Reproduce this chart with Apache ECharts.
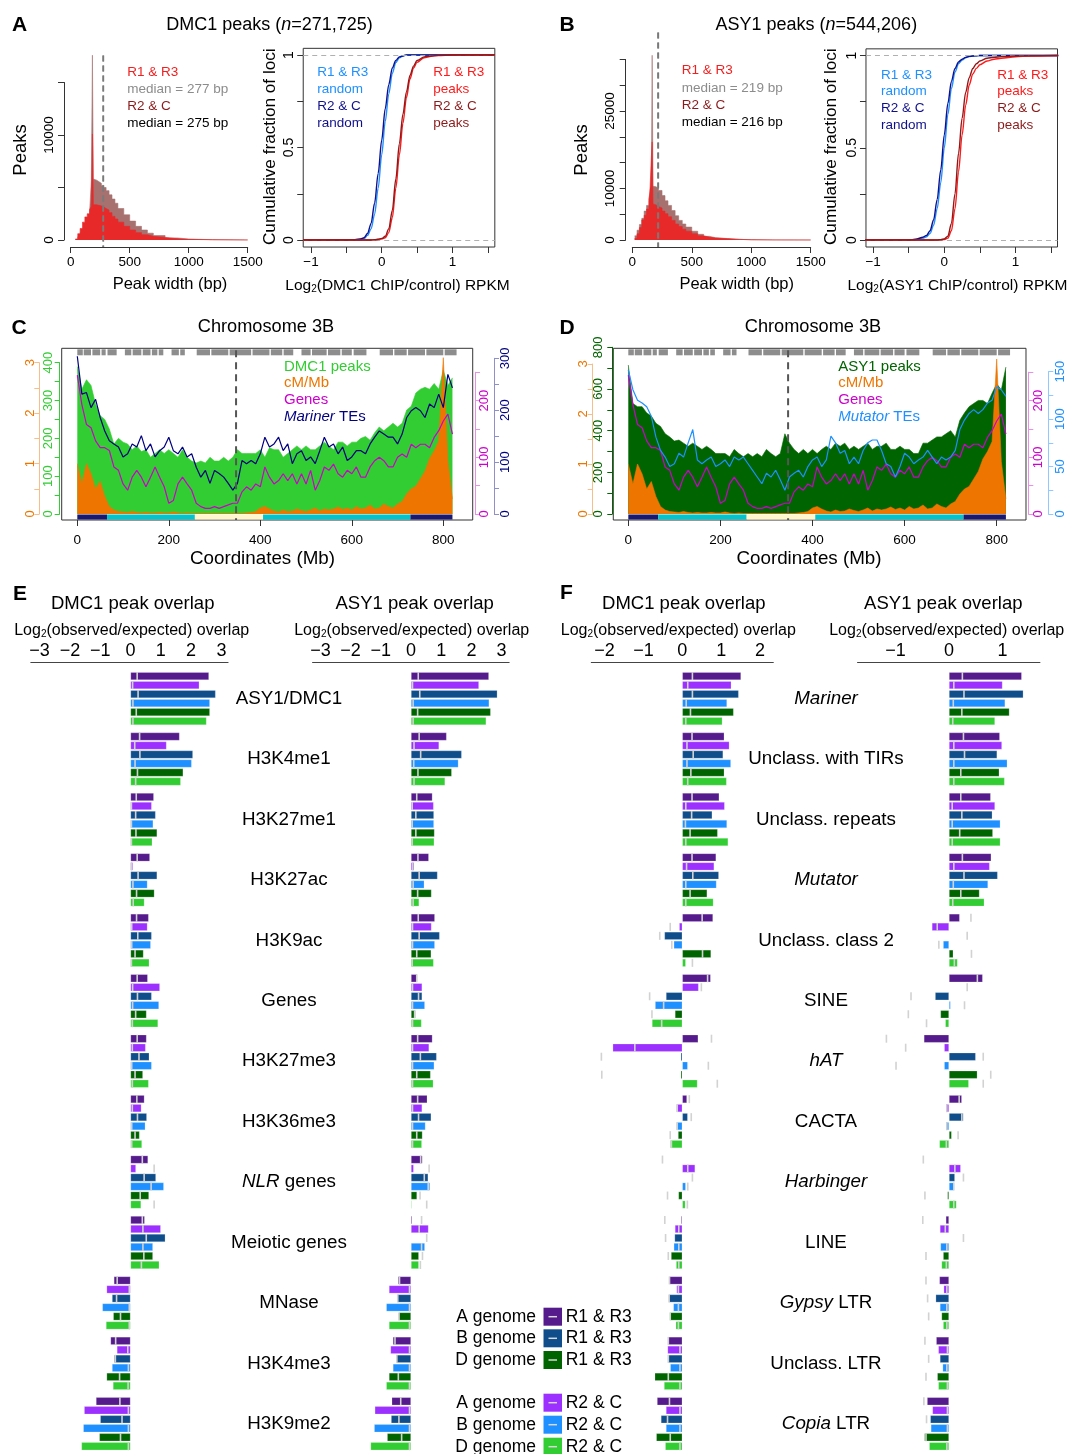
<!DOCTYPE html>
<html>
<head>
<meta charset="utf-8">
<title>Figure</title>
<script src="https://cdn.jsdelivr.net/npm/echarts@6.0.0/dist/echarts.min.js"></script>
<style>
html,body{margin:0;padding:0;background:#fff;}
#chart{width:1088px;height:1454px;}
</style>
</head>
<body>
<div id="chart"></div>
<script>
const FONT = "'Liberation Sans', Arial, Helvetica, sans-serif";

// ================= DATA =================
// Panel A / B : peak width histograms (bin start in bp, peak counts)
const histA_bp   = [40,60,80,100,120,140,160,175,184,192,200,220,240,260,280,300,325,350,375,400,450,500,550,600,650,700,800,900,1000,1200,1500];
const histA_R1R3 = [100,600,1100,1700,2200,2500,2900,3200,10100,3350,3350,3300,3250,3150,3000,2850,2600,2250,2000,1700,1300,950,700,500,350,250,120,60,25,5,0];
const histA_R2C  = [50,300,700,1100,1600,2000,2600,5700,17600,5800,5700,5550,5400,5200,5000,4700,4300,3900,3500,3000,2400,1800,1300,950,650,420,200,90,30,8,0];
const histA_medians = [277, 275];
const histA_yLabels = [0, 10000];

const histB_bp   = [20,40,60,80,100,120,140,150,160,167,174,180,200,220,250,275,300,330,360,390,420,450,500,550,600,650,700,800,900,1000,1200,1500];
const histB_R1R3 = [300,1200,2400,3900,4800,6000,7600,10300,16000,19000,7000,6800,6500,6200,5600,5100,4500,3800,3100,2600,2100,1700,1200,800,550,380,250,120,50,20,5,0];
const histB_R2C  = [800,1900,3000,4200,5600,6700,8000,9000,10200,35800,10400,10300,10000,9600,8600,7600,6700,5700,4700,3800,3100,2500,1700,1100,700,450,280,130,50,20,5,0];
const histB_medians = [219, 216];
const histB_yLabels = [0, 10000, 25000];

// Cumulative fraction curves (log2 ChIP/control RPKM)
const ecdfX = [-1.11,-0.5,-0.4,-0.3,-0.25,-0.2,-0.15,-0.1,-0.05,0,0.05,0.1,0.15,0.2,0.25,0.3,0.35,0.4,0.45,0.5,0.6,0.7,0.8,1.0,1.2,1.6];
const ecdfA_R1R3_random = [0,0,0.001,0.004,0.008,0.025,0.06,0.14,0.28,0.46,0.64,0.79,0.9,0.96,0.985,0.995,1,1,1,1,1,1,1,1,1,1];
const ecdfA_R2C_random  = [0,0,0.001,0.006,0.012,0.035,0.09,0.2,0.36,0.54,0.71,0.84,0.93,0.97,0.99,0.995,1,1,1,1,1,1,1,1,1,1];
const ecdfA_R1R3_peaks  = [0,0,0,0,0,0,0,0.001,0.003,0.006,0.012,0.04,0.12,0.28,0.46,0.63,0.77,0.87,0.93,0.96,0.985,0.993,0.997,0.999,1,1];
const ecdfA_R2C_peaks   = [0,0,0,0,0,0,0,0.001,0.004,0.008,0.02,0.06,0.16,0.33,0.52,0.68,0.8,0.89,0.94,0.97,0.99,0.995,0.998,1,1,1];
const ecdfB_R1R3_random = [0,0,0.003,0.01,0.018,0.035,0.08,0.17,0.31,0.5,0.68,0.82,0.91,0.955,0.975,0.988,0.994,0.997,0.999,1,1,1,1,1,1,1];
const ecdfB_R2C_random  = [0,0,0.004,0.015,0.025,0.05,0.11,0.22,0.38,0.57,0.74,0.86,0.93,0.965,0.98,0.99,0.995,0.997,0.999,1,1,1,1,1,1,1];
const ecdfB_R1R3_peaks  = [0,0,0,0,0,0,0,0,0.001,0.003,0.01,0.05,0.17,0.37,0.57,0.73,0.84,0.9,0.93,0.95,0.97,0.98,0.985,0.993,0.997,1];
const ecdfB_R2C_peaks   = [0,0,0,0,0,0,0,0,0.002,0.006,0.02,0.09,0.25,0.47,0.66,0.8,0.88,0.93,0.955,0.97,0.985,0.99,0.994,0.997,0.999,1];

// Panels C / D : chromosome 3B profiles (10-Mb windows)
const chrWindowMb = [0,10,20,30,40,50,60,70,80,90,100,110,120,130,140,150,160,170,180,190,200,210,220,230,240,250,260,270,280,290,300,310,320,330,340,350,360,370,380,390,400,410,420,430,440,450,460,470,480,490,500,510,520,530,540,550,560,570,580,590,600,610,620,630,640,650,660,670,680,690,700,710,720,730,740,750,760,770,780,790,800,810,820];
const dmc1PeaksPerWin = [390,330,355,340,290,260,250,225,185,200,190,185,170,180,165,170,150,160,170,160,170,160,150,170,150,140,135,140,135,150,140,140,150,140,150,170,160,160,160,160,170,150,175,170,170,150,160,170,180,170,180,170,170,180,190,180,170,190,190,180,190,190,200,205,195,215,230,220,230,240,230,240,275,285,320,330,335,330,345,330,380,340,360];
const asy1PeaksPerWin = [715,530,515,515,485,470,435,420,385,370,350,355,340,325,340,325,310,325,310,290,290,290,275,310,290,275,290,275,290,275,310,290,275,290,385,340,310,290,310,290,310,290,310,325,310,340,325,340,310,325,310,325,340,310,325,325,340,310,310,325,310,310,290,290,340,340,355,370,370,385,400,370,450,485,515,530,545,545,530,580,625,595,705];
const cmPerMb = [1.0,0.6,1.0,0.8,0.5,0.65,0.35,0.15,0.08,0.05,0.04,0.03,0.05,0.03,0.02,0.03,0.02,0.02,0.03,0.02,0.02,0.04,0.02,0.01,0.02,0.01,0.01,0.01,0.01,0.01,0.01,0.01,0.01,0.01,0.01,0.01,0.01,0.02,0.03,0.05,0.12,0.15,0.1,0.06,0.04,0.08,0.05,0.06,0.1,0.07,0.05,0.08,0.12,0.06,0.1,0.08,0.1,0.14,0.09,0.12,0.08,0.15,0.1,0.12,0.18,0.1,0.12,0.2,0.15,0.12,0.2,0.25,0.4,0.5,0.55,0.7,0.85,1.1,1.25,1.45,3.1,1.05,0.3];
const genesPerWin = [245,193,158,152,129,117,117,112,83,77,53,42,65,77,65,48,65,83,65,48,19,24,53,65,53,42,19,13,10,10,13,10,13,16,19,19,39,48,42,53,48,83,65,53,59,71,59,71,53,71,53,77,42,59,83,77,88,71,65,77,71,83,65,65,83,94,100,94,83,83,100,106,100,123,117,123,123,117,135,147,164,176,141];
const marinerPerWin = [304,231,234,205,221,186,160,141,135,129,110,116,135,129,151,122,135,110,122,129,148,122,116,129,110,116,90,71,84,59,84,78,71,59,46,59,103,97,103,97,116,148,129,135,148,122,135,97,116,122,103,110,97,122,148,129,135,116,129,103,110,122,122,116,135,148,160,154,148,148,135,154,186,199,205,199,186,212,205,231,205,269,243];
const mutatorPerWin = [152,131,120,117,113,103,81,67,60,50,53,64,60,75,89,57,53,57,60,50,53,57,50,60,57,60,53,46,39,32,43,39,46,36,25,39,43,46,39,50,57,60,50,57,82,75,64,67,53,60,53,67,75,78,78,67,53,50,39,50,64,60,53,57,60,67,60,53,60,57,60,67,89,99,106,110,106,110,117,120,134,131,124];
const rugIntervals = [[0,12],[14,30],[33,50],[53,62],[66,86],[104,118],[121,140],[143,160],[163,175],[178,188],[206,222],[225,235],[261,290],[293,330],[333,380],[383,420],[423,448],[451,472],[490,510],[513,545],[548,575],[578,600],[604,632],[661,690],[693,720],[723,760],[763,800],[803,829]];
const bandStart  = [0,65,257,406,728];
const bandEnd    = [65,257,406,728,820];
const bandRegion = ['R1','R2a','C','R2b','R3'];
const centromereMb = 347;

// Panels E / F : log2(observed/expected) overlap
const catsE = ['ASY1/DMC1','H3K4me1','H3K27me1','H3K27ac','H3K9ac','Genes','H3K27me3','H3K36me3','NLR genes','Meiotic genes','MNase','H3K4me3','H3K9me2'];
const catsF = ['Mariner','Unclass. with TIRs','Unclass. repeats','Mutator','Unclass. class 2','SINE','hAT','CACTA','Harbinger','LINE','Gypsy LTR','Unclass. LTR','Copia LTR'];
const italicWords = ['NLR','Mariner','Mutator','hAT','Harbinger','Gypsy','Copia'];
const seriesGenome = ['A genome','A genome','B genome','B genome','D genome','D genome'];
const seriesRep    = ['R1 & R3','R2 & C','R1 & R3','R2 & C','R1 & R3','R2 & C'];

const E_dmc1_obs = [
 [2.59,1.62,0.77,0.64,0.60,0.57,0.53,0.46,0.58,0.47,-0.55,-0.66,-1.14],
 [2.27,1.19,0.70,0.08,0.56,0.97,0.50,0.36,0.18,1.00,-0.79,-0.45,-1.53],
 [2.81,2.06,0.83,0.88,0.70,0.70,0.62,0.54,0.84,1.15,-0.61,-0.54,-1.00],
 [2.62,2.02,0.75,0.56,0.67,0.94,0.70,0.49,1.10,0.74,-0.93,-0.61,-1.56],
 [2.62,1.74,0.88,0.79,0.43,0.53,0.41,0.30,0.61,0.74,-0.57,-0.79,-1.03],
 [2.51,1.66,0.72,0.46,0.62,0.91,0.60,0.38,0.35,0.95,-0.81,-0.58,-1.62]];
const E_dmc1_rand = [
 [0.22,0.30,0.19,0.22,0.20,0.22,0.22,0.21,0.39,0.39,-0.44,-0.49,-0.35],
 [0.07,0.14,0.03,0.03,0.04,0.07,0.06,0.06,0.78,0.41,-0.04,-0.09,-0.07],
 [0.25,0.31,0.17,0.25,0.24,0.23,0.28,0.23,0.45,0.52,-0.46,-0.50,-0.28],
 [0.08,0.15,0.03,0.08,0.04,0.07,0.04,0.04,0.68,0.41,-0.04,-0.07,-0.07],
 [0.19,0.23,0.18,0.20,0.15,0.17,0.15,0.15,0.32,0.44,-0.33,-0.36,-0.33],
 [0.08,0.17,0.03,0.09,0.03,0.06,0.06,0.04,0.78,0.36,-0.04,-0.08,-0.07]];
const E_asy1_obs = [
 [2.58,1.18,0.71,0.59,0.79,0.21,0.71,0.54,0.38,0.04,-0.43,-0.60,-0.64],
 [2.25,0.93,0.75,0.11,0.68,0.37,0.60,0.37,0.09,0.58,-0.73,-0.68,-1.20],
 [2.86,1.68,0.76,0.88,0.95,0.37,0.85,0.67,0.57,0.02,-0.45,-0.48,-0.66],
 [2.59,1.57,0.76,0.44,0.79,0.46,0.77,0.48,0.63,0.46,-0.82,-0.60,-1.22],
 [2.64,1.35,0.78,0.68,0.67,0.15,0.65,0.38,0.20,0.26,-0.40,-0.73,-0.79],
 [2.49,1.13,0.77,0.27,0.75,0.35,0.74,0.36,0.03,0.26,-0.73,-0.82,-1.34]];
const E_asy1_rand = [
 [0.24,0.27,0.19,0.23,0.24,0.19,0.22,0.22,0.32,0.35,-0.38,-0.53,-0.34],
 [0.05,0.10,0.04,0.06,0.05,0.05,0.05,0.05,0.60,0.27,-0.05,-0.05,-0.05],
 [0.29,0.32,0.16,0.27,0.27,0.25,0.31,0.25,0.44,0.52,-0.44,-0.47,-0.40],
 [0.07,0.09,0.04,0.07,0.05,0.05,0.05,0.05,0.57,0.35,-0.05,-0.05,-0.05],
 [0.22,0.23,0.16,0.22,0.19,0.12,0.19,0.19,0.30,0.38,-0.40,-0.42,-0.31],
 [0.07,0.10,0.04,0.07,0.04,0.05,0.05,0.05,0.52,0.31,-0.05,-0.05,-0.05]];
const F_dmc1_obs = [
 [1.51,1.08,0.95,0.87,0.79,0.73,0.41,0.12,0.00,-0.03,-0.33,-0.36,-0.65],
 [1.26,1.21,1.09,0.82,-0.08,0.42,-1.79,-0.15,0.33,-0.19,-0.15,-0.38,-0.42],
 [1.45,1.05,0.77,0.94,-0.46,-0.42,-0.04,0.14,0.00,-0.20,-0.34,-0.36,-0.55],
 [1.15,1.25,1.15,0.88,-0.22,-0.70,0.14,-0.15,0.09,-0.22,-0.23,-0.31,-0.42],
 [1.32,1.08,0.91,0.64,0.74,-0.19,-0.04,-0.11,-0.10,-0.29,-0.31,-0.71,-0.67],
 [1.03,1.14,1.18,0.80,0.09,-0.78,0.39,-0.31,0.08,-0.16,-0.17,-0.47,-0.44]];
const F_dmc1_rand = [
 [0.26,0.25,0.25,0.25,0.51,0.65,0.75,0.18,-0.51,-0.45,-0.33,-0.36,-0.33],
 [0.14,0.12,0.09,0.11,-0.31,0.49,-1.22,-0.13,0.14,-0.09,-0.10,-0.06,-0.06],
 [0.26,0.28,0.24,0.27,-0.58,-0.84,-2.08,0.23,0.26,-0.43,-0.34,-0.36,-0.38],
 [0.10,0.12,0.08,0.09,-0.27,-0.48,0.67,-0.13,0.14,-0.09,-0.10,-0.06,-0.06],
 [0.21,0.22,0.20,0.20,0.52,-0.78,-2.07,-0.31,-0.38,-0.36,-0.31,-0.36,-0.31],
 [0.09,0.14,0.09,0.09,0.26,-0.53,0.90,-0.28,0.13,-0.09,-0.10,-0.06,-0.06]];
const F_asy1_obs = [
 [1.36,0.95,0.78,0.79,0.20,0.63,-0.47,0.24,0.00,-0.06,-0.18,-0.24,-0.41],
 [1.00,0.99,0.86,0.76,-0.32,0.00,-0.09,-0.06,0.22,-0.17,-0.10,-0.20,-0.31],
 [1.39,0.90,0.81,0.91,0.01,-0.26,0.50,0.27,0.11,0.01,-0.25,-0.17,-0.35],
 [1.05,1.09,0.96,0.73,-0.11,0.03,-0.09,-0.06,0.09,-0.16,-0.17,-0.12,-0.34],
 [1.13,0.94,0.82,0.57,0.08,-0.16,0.53,0.05,-0.03,-0.11,-0.14,-0.22,-0.46],
 [0.86,1.04,0.96,0.66,0.16,-0.07,0.37,-0.18,0.14,-0.14,-0.11,-0.20,-0.37]];
const F_asy1_rand = [
 [0.25,0.27,0.22,0.25,0.41,0.53,-1.17,0.19,-0.48,-0.49,-0.43,-0.45,-0.47],
 [0.09,0.09,0.06,0.09,-0.22,0.34,-0.81,-0.04,0.11,-0.07,-0.04,-0.03,-0.03],
 [0.28,0.29,0.24,0.28,0.34,-0.71,0.64,0.24,0.27,0.27,-0.40,-0.38,-0.42],
 [0.08,0.09,0.06,0.08,-0.19,0.29,-0.99,-0.04,0.09,-0.04,-0.04,-0.04,-0.03],
 [0.24,0.22,0.20,0.22,0.42,-0.76,0.78,0.17,-0.45,-0.43,-0.38,-0.43,-0.43],
 [0.07,0.09,0.06,0.07,0.10,-0.42,0.64,-0.05,0.09,-0.05,-0.04,-0.03,-0.04]];

// ================= STYLE =================
const HIST_RED = '#E8292A', HIST_BROWN = '#A6716E';
const C_DODGER = '#1E90FF', C_NAVY = '#10108C', C_RED = '#FF1A1A', C_DARKRED = '#8B1A1A';
const BAR_COLORS = ['#551A8B','#9B30FF','#104E8B','#1E90FF','#006400','#32CD32'];
const BAND_COLORS = {R1:'#191970', R2a:'#00C5CD', C:'#FFF6C9', R2b:'#00C5CD', R3:'#191970'};

// ================= BUILDERS =================
const grid = [], xAxis = [], yAxis = [], series = [], graphic = [];
function G(left, top, width, height, extra) { grid.push(Object.assign({left, top, width, height, containLabel:false}, extra || {})); return grid.length - 1; }
const OFF = {axisLine:{show:false,onZero:false}, axisTick:{show:false}, axisLabel:{show:false}, splitLine:{show:false}};
function X(gi, o) { xAxis.push(Object.assign({gridIndex:gi, type:'value'}, OFF, o || {})); return xAxis.length - 1; }
function Y(gi, o) { yAxis.push(Object.assign({gridIndex:gi, type:'value'}, OFF, o || {})); return yAxis.length - 1; }
function axisOn(color, lineColor, tickLen, size, margin, fmt, rot) {
  return {
    axisLine:{show:true, onZero:false, lineStyle:{color:lineColor, width:1}},
    axisTick:{show:true, length:tickLen, lineStyle:{color:lineColor, width:1}},
    axisLabel:{show:true, color, fontSize:size, fontFamily:FONT, margin, formatter:fmt, rotate:rot || 0, showMinLabel:true, showMaxLabel:true},
    splitLine:{show:false}
  };
}
const minusFmt = v => (v < 0 ? '\u2212' + Math.abs(v) : String(v));

function T(x, y, text, o) {
  o = o || {};
  const size = o.size || 18;
  const font = (o.italic ? 'italic ' : '') + (o.bold ? 'bold ' : '') + size + 'px ' + FONT;
  const style = {text, fill:o.color || '#000', font, textAlign:o.align || 'center', textVerticalAlign:'middle', align:o.align || 'center', verticalAlign:'middle'};
  if (o.rich) style.rich = o.rich;
  graphic.push({type:'text', x, y, rotation:o.rot ? Math.PI / 2 : 0, style, z:50, silent:true});
}
function RS(size, color, extra) { return Object.assign({fontSize:size, fontFamily:FONT, fill:color || '#000'}, extra || {}); }
function logText(x, y, rest, size, rot) {
  T(x, y, '{t|Log}{s|2}{t|' + rest + '}', {size, rot, rich:{
    t: RS(size, '#000', {lineHeight:size + 4, verticalAlign:'bottom'}),
    s: RS(Math.round(size * 0.65), '#000', {lineHeight:Math.round(size * 0.7), verticalAlign:'bottom'})}});
}
function italicize(name) {
  for (const w of italicWords) {
    if (name === w) return '{i|' + w + '}';
    if (name.indexOf(w + ' ') === 0) return '{i|' + w + '}{n|' + name.slice(w.length) + '}';
  }
  return '{n|' + name + '}';
}

// ---- histogram panel ----
function stepArea(xi, yi, bp, counts, color, z) {
  return {type:'line', xAxisIndex:xi, yAxisIndex:yi, step:'end', symbol:'none', clip:false, z, silent:true,
    data: bp.map((b, i) => [b, counts[i]]),
    lineStyle:{width:0.6, color}, areaStyle:{color, opacity:1}};
}
function histPanel(p) {
  const g = G(p.left, p.top, p.width, p.height);
  const xi = X(g, Object.assign({min:0, max:1500, interval:500, position:'bottom', offset:7}, axisOn('#000', '#333', 6, 13.5, 8, v => String(v))));
  const yi = Y(g, Object.assign({min:0, max:p.ymax, interval:5000, position:'left', offset:p.yoff},
    axisOn('#000', '#333', 6, 13.5, 8, v => (p.labels.indexOf(v) >= 0 ? String(v) : ''), 90)));
  series.push(stepArea(xi, yi, p.bp, p.r2c, HIST_BROWN, 2));
  series.push(stepArea(xi, yi, p.bp, p.r1r3, HIST_RED, 3));
  series.push({type:'custom', xAxisIndex:xi, yAxisIndex:yi, z:6, silent:true, clip:false,
    data: p.medians.map(m => [m, 0]),
    renderItem: (params, api) => {
      const cs = params.coordSys; const x = api.coord([api.value(0), 0])[0];
      return {type:'line', shape:{x1:x, y1:cs.y - 27, x2:x, y2:cs.y + cs.height + 7},
        style:{stroke:'#7a7a7a', lineWidth:1.6, lineDash:[6, 4]}};
    }});
}
// ---- ECDF panel ----
function ecdfPanel(p) {
  const gd = G(p.zero + p.xmin * p.unit, p.y0 - p.ymax * p.yunit, (p.xmax - p.xmin) * p.unit, (p.ymax - p.ymin) * p.yunit,
    {show:true, borderColor:'#333', borderWidth:1});
  const xd = X(gd, {min:p.xmin, max:p.xmax}), yd = Y(gd, {min:p.ymin, max:p.ymax});
  const gt = G(p.zero - p.unit, p.y0 - p.yunit, 2.5 * p.unit, p.yunit);
  X(gt, Object.assign({min:-1, max:1.5, interval:0.5, position:'bottom', offset:-p.ymin * p.yunit},
    axisOn('#000', '#333', 6, 13.5, 8, v => (Number.isInteger(v) ? minusFmt(v) : '')), {axisLine:{show:false, onZero:false}}));
  Y(gt, Object.assign({min:0, max:1, interval:0.25, position:'left', offset:(-1 - p.xmin) * p.unit},
    axisOn('#000', '#333', 6, 14, 7, v => ((v === 0 || v === 0.5 || v === 1) ? String(v) : ''), 90), {axisLine:{show:false, onZero:false}}));
  p.curves.forEach((c, k) => {
    const s = {type:'line', xAxisIndex:xd, yAxisIndex:yd, symbol:'none', smooth:0.3, smoothMonotone:'x', silent:true, z:3 + k,
      data: ecdfX.map((x, i) => [x, c.data[i]]), lineStyle:{color:c.color, width:1.4}};
    if (k === 0) s.markLine = {silent:true, symbol:['none','none'], label:{show:false}, animation:false,
      lineStyle:{color:'#b0b0b0', type:[5, 4], width:1}, data:[{yAxis:0}, {yAxis:1}]};
    series.push(s);
  });
}
// ---- chromosome panel ----
function chromPanel(p) {
  const left = p.zero + p.xmin * p.unit, width = (p.xmax - p.xmin) * p.unit;
  const gf = G(left, p.boxTop, width, p.boxBottom - p.boxTop, {show:true, borderColor:'#333', borderWidth:1});
  const xf = X(gf, {min:p.xmin, max:p.xmax}), yf = Y(gf, {min:0, max:1});
  p.layers.forEach((L, k) => {
    const g = G(left, p.base - L.max * L.unit, width, L.max * L.unit);
    const xi = X(g, {min:p.xmin, max:p.xmax});
    const yi = Y(g, Object.assign({min:0, max:L.max, interval:L.tick, position:L.pos, offset:L.offset},
      axisOn(L.color, L.lineColor, 5, 13, L.margin, v => (Math.abs(v / L.label - Math.round(v / L.label)) < 1e-9 ? String(v) : ''), 90)));
    const s = {type:'line', xAxisIndex:xi, yAxisIndex:yi, symbol:'none', clip:false, silent:true, z:2 + k,
      data: chrWindowMb.map((m, i) => [m, L.data[i]])};
    if (L.area) { s.lineStyle = {width:0.6, color:L.color}; s.areaStyle = {color:L.color, opacity:1}; }
    else { s.lineStyle = {width:1.2, color:L.color}; }
    series.push(s);
  });
  const gt = G(p.zero, p.boxBottom - 20, 800 * p.unit, 20);
  X(gt, Object.assign({min:0, max:800, interval:200, position:'bottom'}, axisOn('#000', '#333', 6, 13.5, 13, v => String(v)), {axisLine:{show:false, onZero:false}}));
  Y(gt, {});
  // rug of marks along the top
  series.push({type:'custom', xAxisIndex:xf, yAxisIndex:yf, z:7, silent:true, data: rugIntervals,
    renderItem: (params, api) => {
      const cs = params.coordSys; const a = api.coord([api.value(0), 0.5])[0], b = api.coord([api.value(1), 0.5])[0];
      return {type:'rect', shape:{x:a, y:cs.y + 1, width:Math.max(1, b - a), height:6}, style:{fill:'#8d8d8d'}};
    }});
  // chromosome partitions
  series.push({type:'custom', xAxisIndex:xf, yAxisIndex:yf, z:7, silent:true, data: bandStart.map((s, i) => [s, bandEnd[i], i]),
    renderItem: (params, api) => {
      const cs = params.coordSys; const a = api.coord([api.value(0), 0.5])[0], b = api.coord([api.value(1), 0.5])[0];
      return {type:'rect', shape:{x:a, y:cs.y + cs.height - 5.5, width:b - a, height:5}, style:{fill:BAND_COLORS[bandRegion[api.value(2)]]}};
    }});
  // centromere
  series.push({type:'custom', xAxisIndex:xf, yAxisIndex:yf, z:8, silent:true, data:[[centromereMb, 0.5]],
    renderItem: (params, api) => {
      const cs = params.coordSys; const x = api.coord([api.value(0), 0.5])[0];
      return {type:'line', shape:{x1:x, y1:cs.y + 2, x2:x, y2:cs.y + cs.height}, style:{stroke:'#555', lineWidth:2, lineDash:[7, 5]}};
    }});
}
// ---- overlap bar panel ----
const catRich = {
  n:{fontSize:18.8, fontFamily:FONT, color:'#000'},
  i:{fontSize:18.8, fontFamily:FONT, color:'#000', fontStyle:'italic'}};
function overlapPanel(p) {
  const top = 668.4, h = 788.2, axisY = 662.3;
  const gLeft = p.zero + p.lmin * p.unit;
  const gb = G(gLeft, top, (p.lmax - p.lmin) * p.unit, h);
  const xb = X(gb, {min:p.lmin, max:p.lmax, position:'top', offset:top - axisY, axisLine:{show:true, onZero:false, lineStyle:{color:'#444', width:1}}});
  const yb = Y(gb, {type:'category', data:p.cats, inverse:true, axisLine:{show:false, onZero:false}, axisTick:{show:false},
    axisLabel: p.catX ? {show:true, interval:0, margin:gLeft - p.catX, align:'center', formatter:italicize, rich:catRich} : {show:false}});
  const gl = G(p.zero + p.tmin * p.unit, axisY, (p.tmax - p.tmin) * p.unit, 8);
  X(gl, Object.assign({min:p.tmin, max:p.tmax, interval:1, position:'top'}, axisOn('#000', '#000', 0, 18, 2, minusFmt),
    {axisLine:{show:false, onZero:false}, axisTick:{show:false}}));
  Y(gl, {});
  p.obs.forEach((vals, s) => series.push({type:'bar', name:seriesGenome[s] + ' ' + seriesRep[s], xAxisIndex:xb, yAxisIndex:yb, data:vals,
    barWidth:8, barGap:'12.5%', silent:true, itemStyle:{color:BAR_COLORS[s], borderColor:'rgba(255,255,255,0.35)', borderWidth:0.6}}));
  const td = [];
  p.rand.forEach((vals, s) => vals.forEach((v, c) => { if (v !== null) td.push([v, c, s]); }));
  series.push({type:'custom', xAxisIndex:xb, yAxisIndex:yb, z:5, silent:true, data:td,
    renderItem: (params, api) => {
      const pt = api.coord([api.value(0), api.value(1)]);
      const y = pt[1] + (api.value(2) - 2.5) * 9;
      return {type:'rect', shape:{x:pt[0] - 0.8, y:y - 4, width:1.6, height:8}, style:{fill:'#d2d2d2'}};
    }});
}

// ================= LAYOUT =================
// Panel A
histPanel({left:70.7, top:82.5, width:177, height:157.5, ymax:15000, yoff:6.7, bp:histA_bp, r1r3:histA_R1R3, r2c:histA_R2C, medians:histA_medians, labels:histA_yLabels});
ecdfPanel({zero:381.7, unit:70.7, xmin:-1.11, xmax:1.6, y0:240, yunit:185, ymin:-0.038, ymax:1.036, curves:[
  {data:ecdfA_R1R3_random, color:C_DODGER}, {data:ecdfA_R2C_random, color:C_NAVY},
  {data:ecdfA_R1R3_peaks, color:C_RED}, {data:ecdfA_R2C_peaks, color:C_DARKRED}]});
// Panel B
histPanel({left:632.3, top:59.4, width:178.4, height:180.6, ymax:35000, yoff:6.6, bp:histB_bp, r1r3:histB_R1R3, r2c:histB_R2C, medians:histB_medians, labels:histB_yLabels});
ecdfPanel({zero:944.3, unit:71.2, xmin:-1.1, xmax:1.59, y0:240, yunit:184.5, ymin:-0.038, ymax:1.036, curves:[
  {data:ecdfB_R1R3_random, color:C_DODGER}, {data:ecdfB_R2C_random, color:C_NAVY},
  {data:ecdfB_R1R3_peaks, color:C_RED}, {data:ecdfB_R2C_peaks, color:C_DARKRED}]});
// Panel C
chromPanel({zero:77.3, unit:0.4575, xmin:-34.1, xmax:864.3, boxTop:348.3, boxBottom:520, base:514, layers:[
  {data:dmc1PeaksPerWin, area:true, color:'#32CD32', lineColor:'#32CD32', pos:'left', offset:2, margin:5, max:400, tick:50, label:100, unit:0.37825},
  {data:cmPerMb, area:true, color:'#EE7600', lineColor:'#F7BE8A', pos:'left', offset:22.4, margin:2, max:3, tick:0.5, label:1, unit:50.43},
  {data:genesPerWin, area:false, color:'#CD00CD', lineColor:'#E690E6', pos:'right', offset:2.3, margin:3, max:250, tick:50, label:100, unit:0.567},
  {data:marinerPerWin, area:false, color:'#000080', lineColor:'#9090C8', pos:'right', offset:21.3, margin:5, max:300, tick:50, label:100, unit:0.519}]});
// Panel D
chromPanel({zero:628.3, unit:0.4605, xmin:-32.6, xmax:863.6, boxTop:348.3, boxBottom:520, base:514, layers:[
  {data:asy1PeaksPerWin, area:true, color:'#006400', lineColor:'#006400', pos:'left', offset:1, margin:7, max:800, tick:100, label:200, unit:0.20838},
  {data:cmPerMb, area:true, color:'#EE7600', lineColor:'#F7BE8A', pos:'left', offset:20.6, margin:3, max:3, tick:0.5, label:1, unit:50},
  {data:genesPerWin, area:false, color:'#CD00CD', lineColor:'#E690E6', pos:'right', offset:2.3, margin:4, max:250, tick:50, label:100, unit:0.567},
  {data:mutatorPerWin, area:false, color:'#1E90FF', lineColor:'#90C8FF', pos:'right', offset:22.3, margin:6, max:150, tick:25, label:50, unit:0.9487}]});
// Panels E / F
overlapPanel({zero:130.5, unit:30.3, lmin:-3.29, lmax:3.22, tmin:-3, tmax:3, cats:catsE, obs:E_dmc1_obs, rand:E_dmc1_rand});
overlapPanel({zero:411, unit:30.2, lmin:-3.26, lmax:3.25, tmin:-3, tmax:3, cats:catsE, obs:E_asy1_obs, rand:E_asy1_rand, catX:289});
overlapPanel({zero:682.3, unit:38.9, lmin:-2.34, lmax:2.34, tmin:-2, tmax:2, cats:catsF, obs:F_dmc1_obs, rand:F_dmc1_rand});
overlapPanel({zero:949, unit:53.5, lmin:-1.71, lmax:1.70, tmin:-1, tmax:1, cats:catsF, obs:F_asy1_obs, rand:F_asy1_rand, catX:826});

// ================= TEXT =================
// panel letters
[['A',19.5,25],['B',567,25],['C',19,328.5],['D',567,328.5],['E',20,594],['F',566.5,593]].forEach(a => T(a[1], a[2], a[0], {size:21, bold:true}));
// A / B titles
const titleRich = s => ({t:RS(s), i:RS(s, '#000', {fontStyle:'italic'})});
T(269.5, 25, '{t|DMC1 peaks (}{i|n}{t|=271,725)}', {size:18, rich:titleRich(18)});
T(816.3, 25, '{t|ASY1 peaks (}{i|n}{t|=544,206)}', {size:18, rich:titleRich(18)});
// axis titles A/B
T(20.7, 150, 'Peaks', {size:18.5, rot:true});
T(582.3, 150, 'Peaks', {size:18.5, rot:true});
T(170, 284.3, 'Peak width (bp)', {size:16.5});
T(736.7, 284.3, 'Peak width (bp)', {size:16.5});
T(270.7, 146.7, 'Cumulative fraction of loci', {size:17.2, rot:true});
T(831.7, 146.7, 'Cumulative fraction of loci', {size:17.2, rot:true});
logText(397.5, 284.3, '(DMC1 ChIP/control) RPKM', 15.5);
logText(957.5, 284.3, '(ASY1 ChIP/control) RPKM', 15.5);
// histogram annotations
function histNotes(x, y0, dy, m1, m2) {
  T(x, y0, 'R1 & R3', {size:13.5, align:'left', color:'#F02020'});
  T(x, y0 + dy, 'median = ' + m1 + ' bp', {size:13.5, align:'left', color:'#8C8C8C'});
  T(x, y0 + 2 * dy, 'R2 & C', {size:13.5, align:'left', color:C_DARKRED});
  T(x, y0 + 3 * dy, 'median = ' + m2 + ' bp', {size:13.5, align:'left', color:'#000'});
}
histNotes(127.3, 72.7, 16.7, histA_medians[0], histA_medians[1]);
histNotes(681.7, 70.7, 17.3, histB_medians[0], histB_medians[1]);
function ecdfNotes(xl, xr, y0, dy) {
  T(xl, y0, 'R1 & R3', {size:13.5, align:'left', color:C_DODGER});
  T(xl, y0 + dy, 'random', {size:13.5, align:'left', color:C_DODGER});
  T(xl, y0 + 2 * dy, 'R2 & C', {size:13.5, align:'left', color:C_NAVY});
  T(xl, y0 + 3 * dy, 'random', {size:13.5, align:'left', color:C_NAVY});
  T(xr, y0, 'R1 & R3', {size:13.5, align:'left', color:C_RED});
  T(xr, y0 + dy, 'peaks', {size:13.5, align:'left', color:C_RED});
  T(xr, y0 + 2 * dy, 'R2 & C', {size:13.5, align:'left', color:C_DARKRED});
  T(xr, y0 + 3 * dy, 'peaks', {size:13.5, align:'left', color:C_DARKRED});
}
ecdfNotes(317.3, 433.3, 72.7, 16.7);
ecdfNotes(881, 997.3, 75, 16.7);
// C / D titles and legends
T(266, 326.7, 'Chromosome 3B', {size:18.2});
T(813, 326.7, 'Chromosome 3B', {size:18.2});
T(262.5, 559, 'Coordinates (Mb)', {size:18.8});
T(809, 559, 'Coordinates (Mb)', {size:18.8});
function chromLegend(x, first, firstColor, te, teColor) {
  T(x, 366.7, first, {size:15, align:'left', color:firstColor});
  T(x, 383.3, 'cM/Mb', {size:15, align:'left', color:'#EE7600'});
  T(x, 399.5, 'Genes', {size:15, align:'left', color:'#CD00CD'});
  T(x, 416.7, '{i|' + te + '}{n| TEs}', {size:15, align:'left', color:teColor,
    rich:{i:RS(15, teColor, {fontStyle:'italic'}), n:RS(15, teColor)}});
}
chromLegend(284, 'DMC1 peaks', '#32CD32', 'Mariner', '#000080');
chromLegend(838.3, 'ASY1 peaks', '#006400', 'Mutator', '#1E90FF');
// E / F headers
T(132.7, 604, 'DMC1 peak overlap', {size:18.5});
T(414.7, 604, 'ASY1 peak overlap', {size:18.5});
T(683.8, 604, 'DMC1 peak overlap', {size:18.5});
T(943.3, 604, 'ASY1 peak overlap', {size:18.5});
logText(131.7, 629, '(observed/expected) overlap', 16);
logText(411.7, 629, '(observed/expected) overlap', 16);
logText(678.3, 629, '(observed/expected) overlap', 16);
logText(946.7, 629, '(observed/expected) overlap', 16);
// bar legend
const legendOrder = [0, 2, 4, 1, 3, 5];
const legendRowY = [1316.7, 1338.3, 1360, 1402.7, 1424.7, 1446.7];
legendOrder.forEach((s, r) => {
  const y = legendRowY[r];
  T(536, y, seriesGenome[s], {size:17.5, align:'right'});
  graphic.push({type:'rect', shape:{x:543.5, y:y - 9, width:18.5, height:18}, style:{fill:BAR_COLORS[s]}, z:50, silent:true});
  graphic.push({type:'line', shape:{x1:548.5, y1:y, x2:557, y2:y}, style:{stroke:'#d8d8d8', lineWidth:1.5}, z:51, silent:true});
  T(565.7, y, seriesRep[s], {size:17.5, align:'left'});
});

// ================= RENDER =================
const chart = echarts.init(document.getElementById('chart'), null, {renderer:'canvas', width:1088, height:1454});
chart.setOption({
  animation:false,
  backgroundColor:'#fff',
  textStyle:{fontFamily:FONT},
  grid, xAxis, yAxis, series, graphic
});
</script>
</body>
</html>
